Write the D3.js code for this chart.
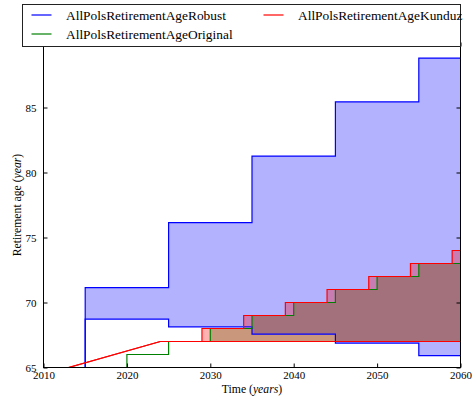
<!DOCTYPE html>
<html>
<head>
<meta charset="utf-8">
<script src="https://cdn.jsdelivr.net/npm/d3@7"></script>
<style>
  body { margin: 0; background: #fff; }
  svg { display: block; font-family: "Liberation Serif", "Times New Roman", serif; }
  .tick text { font-family: "Liberation Serif", "Times New Roman", serif; font-size: 11px; fill: #000; }
  .tick line { stroke: #000; }
</style>
</head>
<body>
<div id="chart"></div>
<script>
// x ticks / y ticks
var xTicks = [2010, 2020, 2030, 2040, 2050, 2060]
var yTicks = [65, 70, 75, 80, 85, 90]

// Robust: step series (value holds until next year)
var robustYears = [2010, 2015, 2025, 2035, 2045, 2055, 2060]
var robustUpper = [65, 71.15, 76.15, 81.26, 85.44, 88.8, 88.8]
var robustLower = [65, 68.72, 68.13, 67.57, 66.88, 65.92, 65.92]

// Original: step series
var originalYears = [2010, 2020, 2025, 2030, 2035, 2040, 2045, 2050, 2055, 2060]
var originalAge = [65, 66, 67, 68, 69, 70, 71, 72, 73, 73]

// Kunduz: ramp then steps (listed as breakpoints)
var kunduzYears = [2010, 2013, 2024, 2029, 2029, 2034, 2034, 2039, 2039, 2044, 2044, 2049, 2049, 2054, 2054, 2059, 2059, 2060]
var kunduzUpper = [65, 65, 67, 67, 68, 68, 69, 69, 70, 70, 71, 71, 72, 72, 73, 73, 74, 74]
var kunduzLower = [65, 65, 67, 67, 67, 67, 67, 67, 67, 67, 67, 67, 67, 67, 67, 67, 67, 67]

var seriesNames = ['AllPolsRetirementAgeRobust', 'AllPolsRetirementAgeOriginal', 'AllPolsRetirementAgeKunduz']
var colors = ['#0000ff', '#008000', '#ff0000']

var width = 476, height = 399
var plotL = 43.5, plotR = 460.5, plotT = 42.5, plotB = 367.5

var x = d3.scaleLinear().domain([2010, 2060]).range([plotL, plotR])
var y = d3.scaleLinear().domain([65, 90]).range([plotB, plotT])

var svg = d3.select('#chart').append('svg')
    .attr('width', width)
    .attr('height', height)

svg.append('defs').append('clipPath').attr('id', 'plotclip')
    .append('rect')
    .attr('x', plotL).attr('y', plotT)
    .attr('width', plotR - plotL).attr('height', plotB - plotT)

var robust = robustYears.map((yr, i) => ({x: yr, hi: robustUpper[i], lo: robustLower[i]}))
var original = originalYears.map((yr, i) => ({x: yr, v: originalAge[i]}))
var kunduz = kunduzYears.map((yr, i) => ({x: yr, hi: kunduzUpper[i], lo: kunduzLower[i]}))
var kunduzFloor = d3.min(kunduzLower.slice(3))

var plot = svg.append('g').attr('clip-path', 'url(#plotclip)')

/* fills */
var bandStep = d3.area().curve(d3.curveStepAfter)
    .x(d => x(d.x)).y0(d => y(d.lo)).y1(d => y(d.hi))
var bandLin = d3.area()
    .x(d => x(d.x)).y0(d => y(d.lo)).y1(d => y(d.hi))
var origArea = d3.area().curve(d3.curveStepAfter)
    .defined(d => d.v >= kunduzFloor)
    .x(d => x(d.x)).y0(y(kunduzFloor)).y1(d => y(d.v))

plot.append('path').attr('d', bandStep(robust))
    .attr('fill', colors[0]).attr('fill-opacity', 0.3)
plot.append('path').attr('d', origArea(original))
    .attr('fill', colors[1]).attr('fill-opacity', 0.3)
plot.append('path').attr('d', bandLin(kunduz))
    .attr('fill', colors[2]).attr('fill-opacity', 0.3)

/* lines */
var stepLine = d3.line().curve(d3.curveStepAfter).x(d => x(d.x))
var linLine = d3.line().x(d => x(d.x))

var lines = [
    [stepLine.y(d => y(d.hi))(robust), colors[0]],
    [stepLine.y(d => y(d.lo))(robust), colors[0]],
    [stepLine.y(d => y(d.v))(original), colors[1]],
    [linLine.y(d => y(d.hi))(kunduz), colors[2]],
    [linLine.y(d => y(d.lo))(kunduz), colors[2]]
]
lines.forEach(l => {
    plot.append('path').attr('d', l[0])
        .attr('fill', 'none').attr('stroke', l[1]).attr('stroke-width', 1.2)
})

/* axes, ticks inward on all four sides */
var noDomain = g => g.attr('font-family', null).select('.domain').remove()
svg.append('g').attr('transform', `translate(0,${plotB})`)
    .call(d3.axisBottom(x).tickValues(xTicks).tickFormat(d3.format('d')).tickSize(-4).tickPadding(4))
    .call(noDomain)
svg.append('g').attr('transform', `translate(0,${plotT})`)
    .call(d3.axisTop(x).tickValues(xTicks).tickFormat('').tickSize(-4))
    .call(noDomain)
svg.append('g').attr('transform', `translate(${plotL},0)`)
    .call(d3.axisLeft(y).tickValues(yTicks).tickSize(-4).tickPadding(7))
    .call(noDomain)
svg.append('g').attr('transform', `translate(${plotR},0)`)
    .call(d3.axisRight(y).tickValues(yTicks).tickFormat('').tickSize(-4))
    .call(noDomain)

svg.append('rect')
    .attr('x', plotL).attr('y', plotT)
    .attr('width', plotR - plotL).attr('height', plotB - plotT)
    .attr('fill', 'none').attr('stroke', '#000').attr('stroke-width', 1)

/* axis labels */
var xl = svg.append('text')
    .attr('x', (plotL + plotR) / 2).attr('y', 393)
    .attr('text-anchor', 'middle').style('font-size', '11.7px')
xl.append('tspan').text('Time (')
xl.append('tspan').style('font-style', 'italic').text('years')
xl.append('tspan').text(')')

var yl = svg.append('text')
    .attr('transform', `translate(21,${(plotT + plotB) / 2}) rotate(-90)`)
    .attr('text-anchor', 'middle').style('font-size', '11.7px')
yl.append('tspan').text('Retirement age (')
yl.append('tspan').style('font-style', 'italic').text('year')
yl.append('tspan').text(')')

/* legend */
var legend = svg.append('g')
legend.append('rect')
    .attr('x', 22.5).attr('y', 4.5).attr('width', 438).attr('height', 42)
    .attr('fill', '#fff').attr('stroke', '#222').attr('stroke-width', 1)

var legendPos = [[31.5, 15], [31.5, 34], [263.5, 15]]
seriesNames.forEach((name, i) => {
    var p = legendPos[i]
    legend.append('line')
        .attr('x1', p[0]).attr('x2', p[0] + 20)
        .attr('y1', p[1]).attr('y2', p[1])
        .attr('stroke', colors[i]).attr('stroke-width', 1.2)
    legend.append('text')
        .attr('x', p[0] + 34.5).attr('y', p[1] + 4.5)
        .style('font-size', '13.4px')
        .text(name)
})
</script>
</body>
</html>
